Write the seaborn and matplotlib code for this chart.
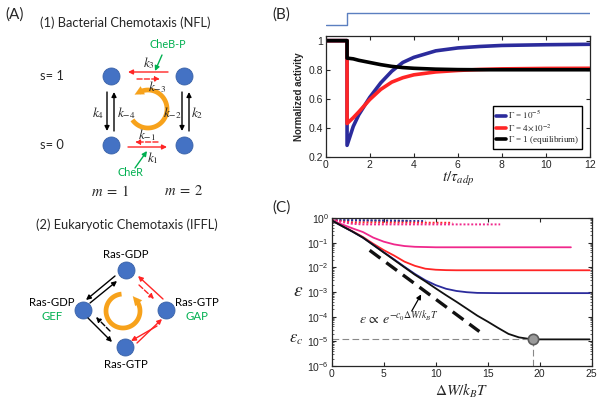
import numpy as np
import matplotlib
matplotlib.use('Agg')
import matplotlib.pyplot as plt
import seaborn as sns
from matplotlib.lines import Line2D
from matplotlib.ticker import LogLocator, NullLocator, NullFormatter

# ---------------- dados do painel (B) ----------------
t_b = [0, 0.97, 0.97, 1.25, 1.5, 2, 2.5, 3, 3.5, 4, 5, 6, 7, 8, 10, 12]
act_gamma_small = [1, 1, 0.28, 0.41, 0.49, 0.61, 0.71, 0.79, 0.85, 0.885, 0.93, 0.95, 0.96, 0.967, 0.972, 0.975]
act_gamma_mid = [1, 1, 0.43, 0.47, 0.51, 0.595, 0.665, 0.715, 0.745, 0.765, 0.785, 0.795, 0.802, 0.806, 0.809, 0.81]
act_gamma_eq = [1, 1, 0.88, 0.875, 0.865, 0.85, 0.835, 0.823, 0.815, 0.81, 0.804, 0.801, 0.80, 0.80, 0.80, 0.80]
legend_b = [r'$\Gamma$ = $10^{-5}$', r'$\Gamma$ = 4$\times$$10^{-2}$', r'$\Gamma$ = 1 (equilibrium)']
stim_t = [0, 0.97, 12]
stim_s = [0, 1, 1]

# ---------------- dados do painel (C) ----------------
w_black = [0, 1, 2, 3, 4, 5, 6, 7, 8, 9, 10, 11, 12, 13, 14, 15, 16, 17, 18, 19, 20, 24.8]
eps_black = [0.8, 0.47, 0.28, 0.16, 0.08, 0.04, 0.02, 0.01, 5e-3, 2.7e-3, 1.4e-3, 7.4e-4, 4e-4,
             2.1e-4, 1.1e-4, 6.3e-5, 3.5e-5, 2.0e-5, 1.45e-5, 1.25e-5, 1.2e-5, 1.2e-5]
w_blue = [0, 1, 2, 3, 4, 5, 6, 7, 8, 9, 10, 11, 12, 13, 14, 16, 24.8]
eps_blue = [0.8, 0.47, 0.28, 0.16, 0.082, 0.041, 0.021, 0.0105, 5.4e-3, 3.0e-3, 1.9e-3, 1.35e-3,
            1.1e-3, 9.8e-4, 9.2e-4, 9e-4, 9e-4]
w_red = [0, 1, 2, 3, 4, 5, 6, 7, 8, 9, 10, 11, 12, 14, 24.8]
eps_red = [0.8, 0.48, 0.29, 0.17, 0.09, 0.05, 0.03, 0.017, 0.0115, 8.8e-3, 8e-3, 7.7e-3, 7.6e-3, 7.6e-3, 7.6e-3]
w_pink = [0, 1, 2, 3, 4, 5, 6, 7, 8, 10, 23]
eps_pink = [0.8, 0.55, 0.38, 0.27, 0.16, 0.11, 0.085, 0.073, 0.068, 0.065, 0.065]
w_dot_pink = [0, 1, 2, 3, 16.2]
eps_dot_pink = [0.85, 0.68, 0.58, 0.55, 0.55]
w_dot_red = [0, 1, 2, 11.6]
eps_dot_red = [0.85, 0.72, 0.66, 0.64]
w_dot_blue = [0, 9]
eps_dot_blue = [0.82, 0.75]
w_dot_black = [0, 7.5]
eps_dot_black = [0.82, 0.77]
w_fit = [3.65, 14.2]
eps_fit = [0.049, 2.5e-5]
w_c = 19.4
eps_c = 1.2e-5

# cores
AZUL = '#2b2b9c'
VERMELHO = '#ff2525'
ROSA = '#f0288c'
VERDE = '#00b050'
LARANJA = '#f7a21b'
NO_COR = '#4472c4'

sns.set_theme(style='ticks')
plt.rcParams['font.family'] = ['Liberation Sans', 'DejaVu Sans']
plt.rcParams['mathtext.fontset'] = 'stix'

fig = plt.figure(figsize=(6.06, 4.07), dpi=100)

# eixo de fundo em pixels para o diagrama (A) e rótulos
bg = fig.add_axes([0, 0, 1, 1])
bg.set_xlim(0, 606)
bg.set_ylim(407, 0)
bg.axis('off')

fonte_a = ['Lato', 'DejaVu Sans']


def seta(x0, y0, x1, y1, cor, estilo='-', lw=1.0):
    bg.annotate('', xy=(x1, y1), xytext=(x0, y0),
                arrowprops=dict(arrowstyle='-|>', color=cor, lw=lw, linestyle=estilo,
                                mutation_scale=7, shrinkA=0, shrinkB=0))


def ciclo(cx, cy, r, a0, a1):
    # arco laranja (sentido anti-horário) com ponta de seta no fim
    ang = np.radians(np.linspace(a0, a1, 80))
    xs = cx + r * np.cos(ang)
    ys = cy - r * np.sin(ang)
    bg.plot(xs, ys, color=LARANJA, lw=3.4, solid_capstyle='butt')
    d = 5
    ponta = (xs[-1] - d * np.sin(ang[-1]), ys[-1] - d * np.cos(ang[-1]))
    bg.annotate('', xy=ponta, xytext=(xs[-1], ys[-1]),
                arrowprops=dict(arrowstyle='-|>', color=LARANJA, lw=0.1,
                                mutation_scale=16, shrinkA=0, shrinkB=0))


bg.text(5, 15, '(A)', fontsize=11, family=fonte_a, va='center')
bg.text(272, 15, '(B)', fontsize=11, family=fonte_a, va='center')
bg.text(272, 208, '(C)', fontsize=11, family=fonte_a, va='center')

# (1) quimiotaxia bacteriana
bg.text(40, 23, '(1) Bacterial Chemotaxis (NFL)', fontsize=9.3, family=fonte_a, va='center')
bg.text(40, 76, 's= 1', fontsize=9.3, family=fonte_a, va='center')
bg.text(40, 145, 's= 0', fontsize=9.3, family=fonte_a, va='center')
bg.scatter([111, 184, 111, 184], [76, 76, 145, 145], s=150, color=NO_COR,
           edgecolor='#3a62a8', linewidth=0.6, zorder=3)
ciclo(148, 109, 19, 215, 478)
seta(168, 72, 128, 72, VERMELHO)
seta(137, 79, 160, 79, VERMELHO, '--')
seta(158, 142, 135, 142, VERMELHO, '--')
seta(128, 147, 167, 147, VERMELHO)
seta(107, 92, 107, 131, 'black')
seta(114, 131, 114, 92, 'black')
seta(182, 92, 182, 131, 'black')
seta(189, 131, 189, 92, 'black')
seta(162, 55, 155, 71, VERDE)
seta(135, 168, 147, 151, VERDE)
for x, y, s in [(149, 63, r'$k_3$'), (157, 87, r'$k_{-3}$'), (98, 113, r'$k_4$'),
                (126, 113, r'$k_{-4}$'), (172, 113, r'$k_{-2}$'), (197, 113, r'$k_2$'),
                (147, 135, r'$k_{-1}$'), (153, 158, r'$k_1$')]:
    bg.text(x, y, s, fontsize=9.5, ha='center', va='center')
bg.text(168, 45, 'CheB-P', fontsize=7.8, family=fonte_a, color=VERDE, ha='center', va='center')
bg.text(130, 172, 'CheR', fontsize=7.8, family=fonte_a, color=VERDE, ha='center', va='center')
bg.text(110, 191, r'$m\;=\;1$', fontsize=10.5, ha='center', va='center')
bg.text(184, 191, r'$m\;=\;2$', fontsize=10.5, ha='center', va='center')

# (2) quimiotaxia eucariótica
bg.text(36, 225, '(2) Eukaryotic Chemotaxis (IFFL)', fontsize=9.3, family=fonte_a, va='center')
bg.scatter([126, 83, 166, 125], [270, 310, 310, 347], s=150, color=NO_COR,
           edgecolor='#3a62a8', linewidth=0.6, zorder=3)
ciclo(123, 311, 17, 95, 400)
seta(115, 276, 86, 300, 'black')
seta(90, 303, 117, 281, 'black')
seta(88, 318, 112, 342, 'black')
seta(110, 331, 96, 317, 'black', '--')
seta(163, 299, 138, 276, VERMELHO)
seta(139, 285, 154, 299, VERMELHO, '--')
seta(137, 343, 162, 319, VERMELHO)
seta(157, 326, 131, 341, VERMELHO)
for x, y, s, c in [(126, 254, 'Ras-GDP', 'black'), (52, 303, 'Ras-GDP', 'black'),
                   (52, 317, 'GEF', VERDE), (197, 303, 'Ras-GTP', 'black'),
                   (197, 317, 'GAP', VERDE), (126, 364, 'Ras-GTP', 'black')]:
    bg.text(x, y, s, fontsize=8.2, family=fonte_a, color=c, ha='center', va='center')

# ---------------- painel (B) ----------------
ax_s = fig.add_axes([325.7 / 606, 1 - 28 / 407, 264.3 / 606, 18 / 407])
ax_s.plot(stim_t, stim_s, drawstyle='steps-post', color='#5b7fc0', lw=1)
ax_s.set_xlim(0, 12)
ax_s.set_ylim(-0.25, 1.25)
ax_s.axis('off')

ax_b = fig.add_axes([325.7 / 606, 1 - 157 / 407, 264.3 / 606, 121 / 407])
for y, cor in [(act_gamma_small, AZUL), (act_gamma_mid, VERMELHO), (act_gamma_eq, 'black')]:
    sns.lineplot(x=t_b, y=y, ax=ax_b, color=cor, lw=2.6, estimator=None, sort=False)
ax_b.set_xlim(0, 12)
ax_b.set_ylim(0.2, 1.032)
ax_b.set_xticks(range(0, 13, 2))
ax_b.set_yticks([0.2, 0.4, 0.6, 0.8, 1])
ax_b.set_yticklabels(['0.2', '0.4', '0.6', '0.8', '1'])
ax_b.tick_params(direction='in', top=True, right=True, length=3, width=0.8,
                 labelsize=7.5, pad=2)
ax_b.set_ylabel('Normalized activity', fontsize=7, fontweight='bold', labelpad=3)
ax_b.set_xlabel(r'$t/\tau_{adp}$', fontsize=11, labelpad=0)
for s in ax_b.spines.values():
    s.set_linewidth(0.9)
hand = [Line2D([], [], color=c, lw=2.6) for c in [AZUL, VERMELHO, 'black']]
leg = ax_b.legend(hand, legend_b, loc='lower right', bbox_to_anchor=(0.97, 0.066),
                  borderaxespad=0, fancybox=False, edgecolor='black', framealpha=1,
                  prop={'family': 'Liberation Serif', 'size': 6.5}, handlelength=1.1,
                  handletextpad=0.3, labelspacing=0.15, borderpad=0.3)
leg.get_frame().set_linewidth(1)

# ---------------- painel (C) ----------------
ax_c = fig.add_axes([331.7 / 606, 1 - 366 / 407, 260 / 606, 148 / 407])
ax_c.set_yscale('log')
for xx, yy, cor in [(w_dot_black, eps_dot_black, '#333355'), (w_dot_blue, eps_dot_blue, AZUL),
                    (w_dot_red, eps_dot_red, VERMELHO), (w_dot_pink, eps_dot_pink, ROSA)]:
    sns.lineplot(x=xx, y=yy, ax=ax_c, color=cor, lw=1.4, ls=(0, (1, 1)), estimator=None, sort=False)
for xx, yy, cor in [(w_pink, eps_pink, ROSA), (w_red, eps_red, VERMELHO),
                    (w_blue, eps_blue, AZUL), (w_black, eps_black, '#111111')]:
    sns.lineplot(x=xx, y=yy, ax=ax_c, color=cor, lw=1.3, estimator=None, sort=False)
sns.lineplot(x=w_fit, y=eps_fit, ax=ax_c, color='#111111', lw=2.4, ls=(0, (4, 2.2)),
             estimator=None, sort=False)
ax_c.plot([0, w_c], [eps_c, eps_c], color='#888888', lw=0.8, ls=(0, (6, 3)))
ax_c.plot([w_c, w_c], [1e-6, eps_c], color='#888888', lw=0.8, ls=(0, (6, 3)))
ax_c.scatter([w_c], [eps_c], s=55, color='#9a9a9a', edgecolor='#5a5a5a', linewidth=1.2, zorder=5)
ax_c.set_xlim(0, 25)
ax_c.set_ylim(1e-6, 1)
ax_c.set_xticks(range(0, 26, 5))
ax_c.xaxis.set_minor_locator(NullLocator())
ax_c.yaxis.set_major_locator(LogLocator(base=10, numticks=10))
ax_c.yaxis.set_minor_locator(LogLocator(base=10, subs=np.arange(2, 10), numticks=10))
ax_c.yaxis.set_minor_formatter(NullFormatter())
ax_c.tick_params(which='both', direction='in', top=True, right=True, labelsize=7.5, pad=2)
ax_c.tick_params(which='major', length=3, width=0.8)
ax_c.tick_params(which='minor', length=1.5, width=0.5)
for s in ax_c.spines.values():
    s.set_linewidth(0.9)
ax_c.set_xlabel(r'$\Delta W/k_BT$', fontsize=11, labelpad=2)
ax_c.text(-0.13, 1e-3, r'$\varepsilon$', transform=ax_c.get_yaxis_transform(),
          fontsize=14, ha='center', va='center')
ax_c.text(-0.135, eps_c, r'$\varepsilon_c$', transform=ax_c.get_yaxis_transform(),
          fontsize=12, ha='center', va='center')
ax_c.text(6.5, 9e-5, r'$\varepsilon\,\propto\,e^{-c_0\Delta W/k_BT}$', fontsize=10,
          ha='center', va='center')
ax_c.annotate('', xy=(8.6, 8e-4), xytext=(7.7, 1.7e-4),
              arrowprops=dict(arrowstyle='-|>', color='black', lw=0.9, mutation_scale=7,
                              shrinkA=0, shrinkB=0))

fig.savefig('out.png', dpi=100)
